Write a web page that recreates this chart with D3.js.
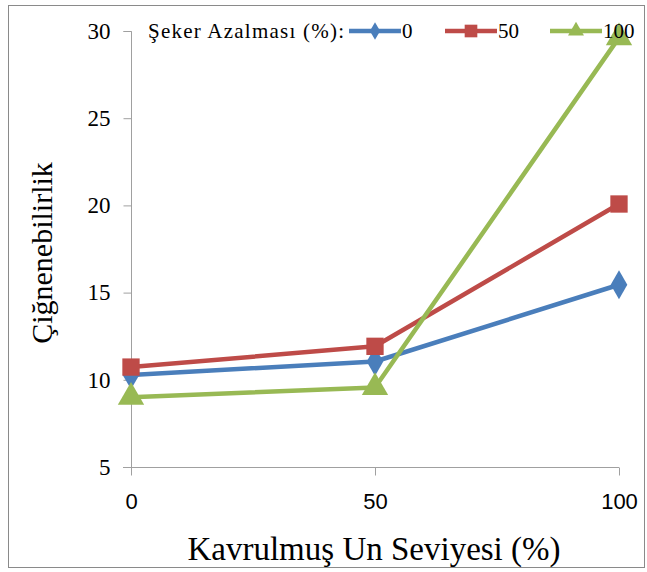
<!DOCTYPE html>
<html>
<head>
<meta charset="utf-8">
<script src="https://cdn.jsdelivr.net/npm/d3@7"></script>
<style>
  html, body { margin: 0; padding: 0; background: #fff; }
  svg { display: block; }
</style>
</head>
<body>
<svg id="chart" width="647" height="572"></svg>
<script>
const categories = [0, 50, 100];
const seriesNames = ["0", "50", "100"];
const seriesValues = [
  [10.28, 11.05, 15.45],
  [10.73, 11.92, 20.08],
  [9.0, 9.56, 29.62]
];
const seriesColors = ["#4a7ebb", "#be4b48", "#98b954"];
const seriesSymbols = [d3.symbolDiamond, d3.symbolSquare, d3.symbolTriangle];
const yTicks = [5, 10, 15, 20, 25, 30];
const xTicks = [0, 50, 100];
const legendTitle = "Şeker Azalması (%):";
const xTitle = "Kavrulmuş Un Seviyesi (%)";
const yTitle = "Çiğnenebilirlik";

const svg = d3.select("#chart");
const serif = "Liberation Serif";
const sans = "Liberation Sans";

// outer border
svg.append("rect").attr("x", 8.5).attr("y", 5.5).attr("width", 636).attr("height", 562)
  .attr("fill", "none").attr("stroke", "#8a8a8a").attr("stroke-width", 1);

const x = d3.scaleLinear().domain([0, 100]).range([131, 619]);
const y = d3.scaleLinear().domain([5, 30]).range([467, 31]);

const gridColor = "#a0a0a0";

// y axis
const yAxis = d3.axisLeft(y).tickValues(yTicks).tickSize(8).tickPadding(13);
const gy = svg.append("g").attr("transform", "translate(131.5,0)").call(yAxis);
gy.select(".domain").attr("stroke", gridColor).attr("d", `M-8,31.5H0V475`);
gy.selectAll(".tick line").attr("stroke", gridColor);
gy.selectAll(".tick text").style("font-family", serif).style("font-size", "23px").attr("fill", "#000");

// x axis
const xAxis = d3.axisBottom(x).tickValues(xTicks).tickSize(8).tickPadding(18).tickSizeOuter(0);
const gx = svg.append("g").attr("transform", "translate(0,467.5)").call(xAxis);
gx.select(".domain").attr("stroke", gridColor).attr("d", `M123,0H619`);
gx.selectAll(".tick line").attr("stroke", gridColor);
gx.selectAll(".tick text").style("font-family", sans).style("font-size", "22px").attr("fill", "#000");

// axis titles
svg.append("text").attr("x", 374).attr("y", 560).attr("text-anchor", "middle")
  .style("font-family", serif).style("font-size", "33px").attr("fill", "#000").text(xTitle);
svg.append("text").attr("transform", "translate(52,253) rotate(-90)").attr("text-anchor", "middle")
  .style("font-family", serif).style("font-size", "30px").attr("fill", "#000").text(yTitle);

// series
const line = d3.line().x((d, i) => x(categories[i])).y(d => y(d));
const markerSizes = [240, 300, 300];
seriesValues.forEach((vals, s) => {
  svg.append("path").attr("d", line(vals)).attr("fill", "none")
    .attr("stroke", seriesColors[s]).attr("stroke-width", 4.5).attr("stroke-linejoin", "round");
});
seriesValues.forEach((vals, s) => {
  svg.selectAll(null).data(vals).enter().append("path")
    .attr("d", d3.symbol().type(seriesSymbols[s]).size(markerSizes[s]))
    .attr("transform", (d, i) => `translate(${x(categories[i])},${y(d)})`)
    .attr("fill", seriesColors[s]);
});

// legend
const lg = svg.append("g");
lg.append("text").attr("x", 148).attr("y", 38).style("font-family", serif).style("font-size", "21px")
  .attr("textLength", 196).attr("lengthAdjust", "spacing")
  .attr("fill", "#000").text(legendTitle);
const legendX = [349, 445, 550];
const legendSizes = [90, 160, 110];
seriesNames.forEach((n, s) => {
  const lx = legendX[s];
  lg.append("line").attr("x1", lx).attr("x2", lx + 52).attr("y1", 31).attr("y2", 31)
    .attr("stroke", seriesColors[s]).attr("stroke-width", 4.5);
  lg.append("path").attr("d", d3.symbol().type(seriesSymbols[s]).size(legendSizes[s]))
    .attr("transform", `translate(${lx + 26},31)`).attr("fill", seriesColors[s]);
  lg.append("text").attr("x", lx + 53).attr("y", 38).style("font-family", serif).style("font-size", "21px")
    .attr("fill", "#000").text(n);
});
</script>
</body>
</html>
